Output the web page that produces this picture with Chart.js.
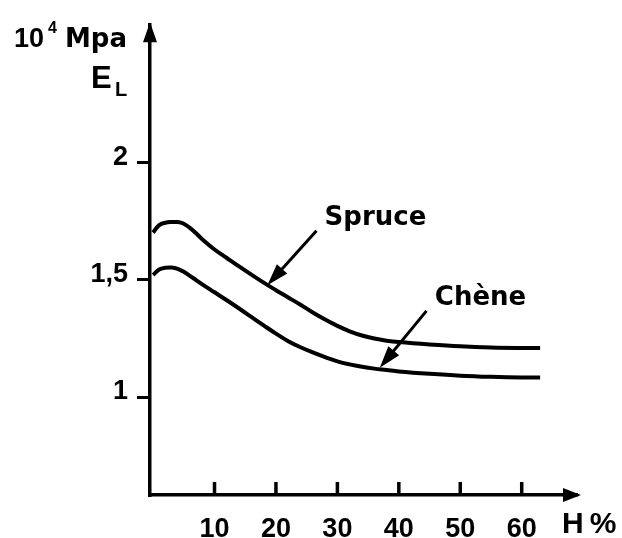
<!DOCTYPE html>
<html lang="fr">
<head>
<meta charset="UTF-8">
<title>E_L en fonction de H%</title>
<script src="https://cdn.jsdelivr.net/npm/chart.js@4.4.0/dist/chart.umd.min.js"></script>
<style>
  body { margin: 0; background: #fff; }
  canvas { display: block; }
</style>
</head>
<body>
<canvas id="myChart" width="622" height="538"></canvas>
<script>
// humidity H (%) and modulus E_L (10^4 MPa)
var humidity = [0, 1, 2, 3, 4, 5, 6, 7, 8, 10, 12, 14, 16, 18, 20, 22, 24, 26, 28, 30, 32, 34, 36, 38, 40, 45, 50, 55, 60, 63];
var spruce = [1.70, 1.732, 1.742, 1.745, 1.745, 1.738, 1.72, 1.697, 1.672, 1.628, 1.592, 1.556, 1.521, 1.487, 1.455, 1.424, 1.393, 1.36, 1.33, 1.303, 1.28, 1.262, 1.249, 1.24, 1.234, 1.224, 1.216, 1.211, 1.209, 1.209];
var chene = [1.52, 1.543, 1.55, 1.551, 1.546, 1.533, 1.516, 1.498, 1.48, 1.446, 1.412, 1.377, 1.341, 1.305, 1.27, 1.238, 1.212, 1.19, 1.17, 1.152, 1.139, 1.129, 1.121, 1.115, 1.109, 1.099, 1.091, 1.086, 1.083, 1.083];

var xTicks = [10, 20, 30, 40, 50, 60];
var yTicks = [1, 1.5, 2];
var yTickLabels = ['1', '1,5', '2'];

// curve names and their pointer arrows, in data units (H, E_L)
var seriesNames = ['Spruce', 'Chène'];
var nameH = [36.2, 53.3];
var nameE = [1.762, 1.42];
var arrowFromH = [26.6, 44.5];
var arrowFromE = [1.708, 1.367];
var arrowToH = [18.6, 36.9];
var arrowToE = [1.476, 1.125];

var FONT = "'Liberation Sans', Arial, sans-serif";
var WIDE = "'DejaVu Sans', sans-serif";

function toPoints(ys) {
    return humidity.map(function (h, i) { return { x: h, y: ys[i] }; });
}

function arrow(ctx, fx, fy, tx, ty, len, half) {
    var ang = Math.atan2(ty - fy, tx - fx);
    ctx.beginPath();
    ctx.moveTo(fx, fy);
    ctx.lineTo(tx - Math.cos(ang) * len * 0.6, ty - Math.sin(ang) * len * 0.6);
    ctx.stroke();
    ctx.beginPath();
    ctx.moveTo(tx, ty);
    ctx.lineTo(tx - Math.cos(ang) * len - Math.sin(ang) * half, ty - Math.sin(ang) * len + Math.cos(ang) * half);
    ctx.lineTo(tx - Math.cos(ang) * len + Math.sin(ang) * half, ty - Math.sin(ang) * len - Math.cos(ang) * half);
    ctx.closePath();
    ctx.fill();
}

var decor = {
    id: 'decor',
    afterDraw: function (chart) {
        var ctx = chart.ctx;
        var a = chart.chartArea;
        var sx = chart.scales.x;
        var sy = chart.scales.y;
        ctx.save();
        ctx.fillStyle = '#000';
        ctx.strokeStyle = '#000';
        ctx.lineCap = 'butt';

        // x tick marks point up into the plot
        ctx.lineWidth = 3.5;
        xTicks.forEach(function (v) {
            var px = sx.getPixelForValue(v);
            ctx.beginPath();
            ctx.moveTo(px, a.bottom);
            ctx.lineTo(px, a.bottom - 13);
            ctx.stroke();
        });

        // axis arrow heads
        ctx.beginPath();
        ctx.moveTo(a.left, a.top - 3);
        ctx.lineTo(a.left - 7, a.top + 17);
        ctx.lineTo(a.left + 7, a.top + 17);
        ctx.closePath();
        ctx.fill();
        ctx.beginPath();
        ctx.moveTo(a.right + 4, a.bottom);
        ctx.lineTo(a.right - 14, a.bottom - 7);
        ctx.lineTo(a.right - 14, a.bottom + 7);
        ctx.closePath();
        ctx.fill();

        // pointers and names
        ctx.lineWidth = 3;
        seriesNames.forEach(function (name, i) {
            arrow(ctx,
                sx.getPixelForValue(arrowFromH[i]), sy.getPixelForValue(arrowFromE[i]),
                sx.getPixelForValue(arrowToH[i]), sy.getPixelForValue(arrowToE[i]), 22, 7);
            ctx.font = 'bold 26px ' + WIDE;
            ctx.textAlign = 'center';
            ctx.textBaseline = 'middle';
            ctx.fillText(name, sx.getPixelForValue(nameH[i]), sy.getPixelForValue(nameE[i]));
        });

        // axis titles
        ctx.textAlign = 'left';
        ctx.textBaseline = 'alphabetic';
        ctx.font = 'bold 27px ' + FONT;
        ctx.fillText('10', 14, 47);
        ctx.font = 'bold 16px ' + FONT;
        ctx.fillText('4', 48, 33);
        ctx.font = 'bold 26px ' + WIDE;
        ctx.fillText('Mpa', 65, 47);
        ctx.font = 'bold 31px ' + FONT;
        ctx.fillText('E', 91, 88);
        ctx.font = 'bold 20px ' + FONT;
        ctx.fillText('L', 115, 96);
        ctx.font = 'bold 30px ' + FONT;
        ctx.letterSpacing = '6px';
        ctx.fillText('H%', 562, 533);
        ctx.restore();
    }
};

var ctx = document.getElementById('myChart');
var myChart = new Chart(ctx, {
    type: 'line',
    data: {
        datasets: [{
            label: seriesNames[0],
            data: toPoints(spruce),
            borderColor: '#000',
            borderWidth: 4,
            pointRadius: 0,
            fill: false,
            tension: 0.4
        }, {
            label: seriesNames[1],
            data: toPoints(chene),
            borderColor: '#000',
            borderWidth: 4,
            pointRadius: 0,
            fill: false,
            tension: 0.4
        }]
    },
    options: {
        responsive: false,
        animation: false,
        layout: { padding: { top: 15, right: 45, bottom: 0, left: 0 } },
        plugins: {
            legend: { display: false },
            tooltip: { enabled: false }
        },
        scales: {
            x: {
                type: 'linear',
                min: -0.5,
                max: 69,
                afterBuildTicks: function (s) {
                    s.ticks = xTicks.map(function (v) { return { value: v }; });
                },
                afterFit: function (s) { s.height = 43; },
                grid: { display: false },
                border: { display: true, color: '#000', width: 3.5 },
                ticks: {
                    color: '#000',
                    padding: 10,
                    maxRotation: 0,
                    autoSkip: false,
                    font: { family: FONT, size: 27, weight: 'bold' },
                    callback: function (v) { return String(v); }
                }
            },
            y: {
                type: 'linear',
                min: 0.583,
                max: 2.583,
                afterBuildTicks: function (s) {
                    s.ticks = yTicks.map(function (v) { return { value: v }; });
                },
                afterFit: function (s) { s.width = 150; },
                grid: { drawOnChartArea: false, drawTicks: true, tickLength: 13, color: '#000', lineWidth: 3 },
                border: { display: true, color: '#000', width: 3.5 },
                ticks: {
                    color: '#000',
                    padding: 9,
                    labelOffset: -5,
                    font: { family: FONT, size: 27, weight: 'bold' },
                    callback: function (v) { return yTickLabels[yTicks.indexOf(v)]; }
                }
            }
        }
    },
    plugins: [decor]
});
</script>
</body>
</html>
